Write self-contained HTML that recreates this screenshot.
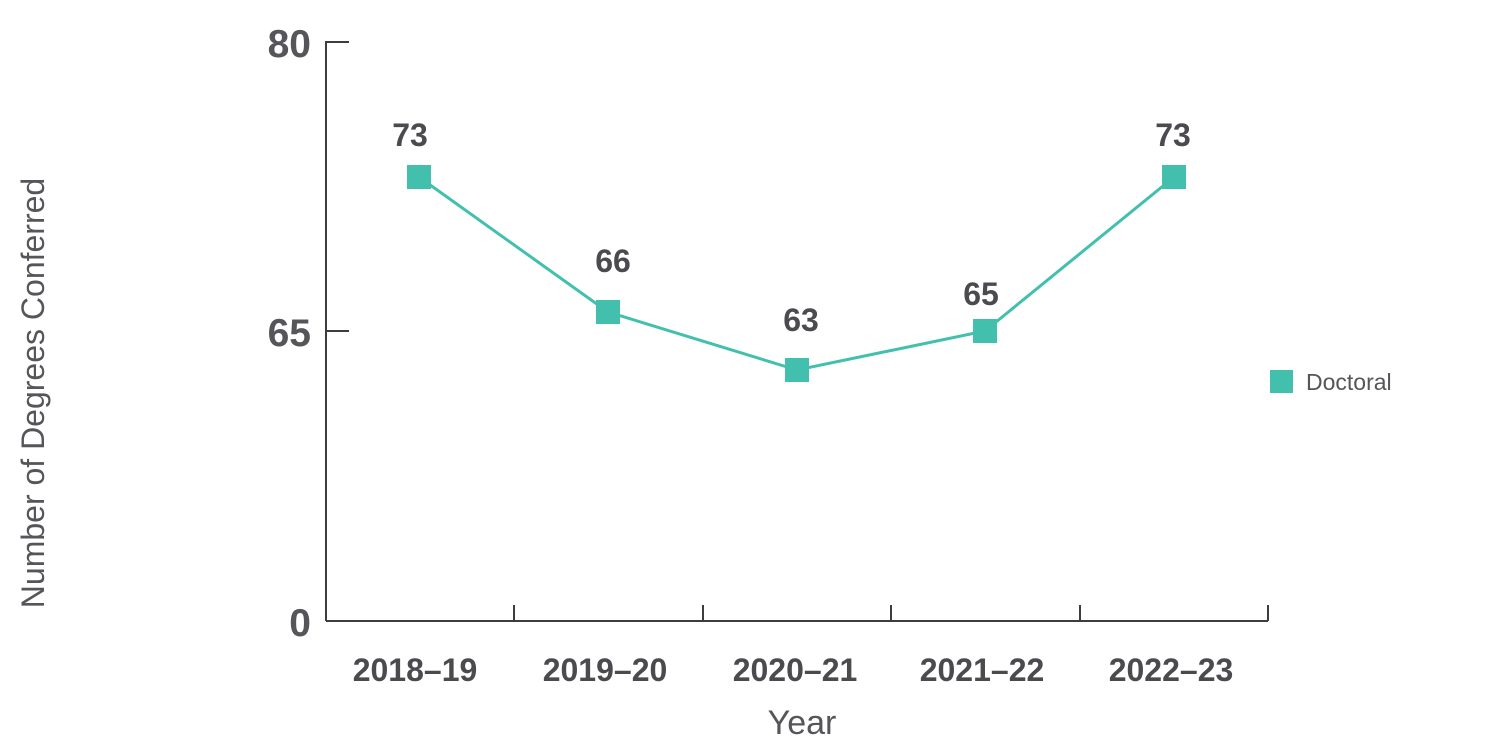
<!DOCTYPE html>
<html><head><meta charset="utf-8"><style>
html,body{margin:0;padding:0;background:#fff;}
svg{display:block;font-family:"Liberation Sans",sans-serif;}
</style></head><body>
<svg width="1500" height="750" viewBox="0 0 1500 750">
<g stroke="#3d3d40" stroke-width="2" fill="none">
<line x1="326" y1="41" x2="326" y2="621"/>
<line x1="326" y1="621" x2="1268" y2="621"/>
<line x1="326" y1="42" x2="349" y2="42"/>
<line x1="326" y1="331" x2="349" y2="331"/>
<line x1="514" y1="605" x2="514" y2="621"/>
<line x1="703" y1="605" x2="703" y2="621"/>
<line x1="891" y1="605" x2="891" y2="621"/>
<line x1="1080" y1="605" x2="1080" y2="621"/>
<line x1="1268" y1="605" x2="1268" y2="621"/>
</g>
<g fill="#55555a" font-size="39" font-weight="bold" text-anchor="end">
<text x="311" y="57">80</text>
<text x="311" y="346">65</text>
<text x="311" y="636">0</text>
</g>
<g fill="#4a4a4f" font-size="32" font-weight="bold" text-anchor="middle">
<text x="415" y="681">2018–19</text>
<text x="605" y="681">2019–20</text>
<text x="795" y="681">2020–21</text>
<text x="982" y="681">2021–22</text>
<text x="1171" y="681">2022–23</text>
</g>
<text x="802" y="734" fill="#55555a" font-size="34" text-anchor="middle">Year</text>
<text transform="translate(44,393) rotate(-90)" fill="#55555a" font-size="32" text-anchor="middle">Number of Degrees Conferred</text>
<polyline points="419,177 608,312 797,370 985,331 1174,177" fill="none" stroke="#43bfae" stroke-width="3"/>
<g fill="#43bfae">
<rect x="407" y="165" width="24" height="24"/>
<rect x="596" y="300" width="24" height="24"/>
<rect x="785" y="358" width="24" height="24"/>
<rect x="973" y="319" width="24" height="24"/>
<rect x="1162" y="165" width="24" height="24"/>
<rect x="1270" y="370" width="23" height="23"/>
</g>
<g fill="#4a4a4f" font-size="32" font-weight="bold" text-anchor="middle">
<text x="410" y="146">73</text>
<text x="613" y="272">66</text>
<text x="801" y="331">63</text>
<text x="981" y="305">65</text>
<text x="1173" y="146">73</text>
</g>
<text x="1306" y="390" fill="#55555a" font-size="23">Doctoral</text>
</svg>
</body></html>
